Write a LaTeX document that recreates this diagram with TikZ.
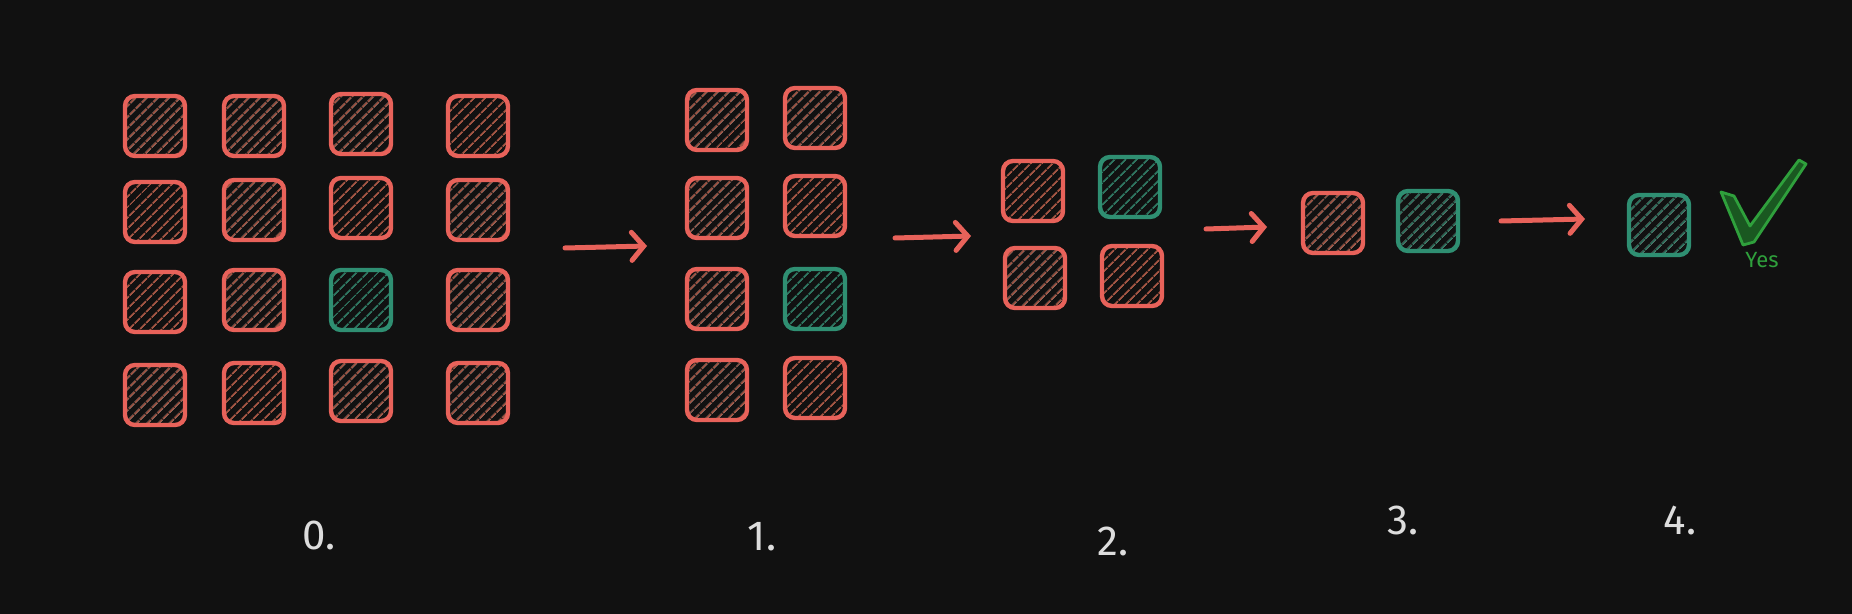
\documentclass[tikz,border=0pt]{standalone}
\usepackage{fontspec}
\setmainfont{Fira Sans}
\usetikzlibrary{arrows.meta, patterns.meta}
\definecolor{bg}{HTML}{111111}
\definecolor{redline}{HTML}{E8625A}
\definecolor{redhatch}{HTML}{A45644}
\definecolor{greenline}{HTML}{2F8F72}
\definecolor{greenhatch}{HTML}{2F7560}
\definecolor{checkgreen}{HTML}{2FA03C}
\definecolor{labelgray}{HTML}{DDDDDD}

\begin{document}
\begin{tikzpicture}[
      x=0.5pt, y=-0.5pt,
      cell/.style={rectangle, rounded corners=5pt, minimum size=30pt,
                   line width=2.2pt, inner sep=0pt},
      redcell/.style={cell, draw=redline,
                      pattern={Lines[angle=45, distance=4pt, line width=1pt]},
                      pattern color=redhatch},
      greencell/.style={cell, draw=greenline,
                        pattern={Lines[angle=45, distance=4pt, line width=1pt]},
                        pattern color=greenhatch},
      arr/.style={-{Straight Barb[length=6pt, width=14pt, line cap=round]},
                  line width=2.5pt, line cap=round, redline},
      step label/.style={font=\fontsize{21}{24}\selectfont, text=labelgray}
    ]
    \useasboundingbox[fill=bg] (0,0) rectangle (1852,614);

    % step 0: 4 x 4
    \node[redcell] (a11) at (155,126) {};
    \node[redcell] (a12) at (254,126) {};
    \node[redcell] (a13) at (361,124) {};
    \node[redcell] (a14) at (478,126) {};
    \node[redcell] (a21) at (155,212) {};
    \node[redcell] (a22) at (254,210) {};
    \node[redcell] (a23) at (361,208) {};
    \node[redcell] (a24) at (478,210) {};
    \node[redcell] (a31) at (155,302) {};
    \node[redcell] (a32) at (254,300) {};
    \node[greencell] (a33) at (361,300) {};
    \node[redcell] (a34) at (478,300) {};
    \node[redcell] (a41) at (155,395) {};
    \node[redcell] (a42) at (254,393) {};
    \node[redcell] (a43) at (361,391) {};
    \node[redcell] (a44) at (478,393) {};

    % step 1: 2 x 4
    \node[redcell] (b11) at (717,120) {};
    \node[redcell] (b12) at (815,118) {};
    \node[redcell] (b21) at (717,208) {};
    \node[redcell] (b22) at (815,206) {};
    \node[redcell] (b31) at (717,299) {};
    \node[greencell] (b32) at (815,299) {};
    \node[redcell] (b41) at (717,390) {};
    \node[redcell] (b42) at (815,388) {};

    % step 2: 2 x 2
    \node[redcell] (c11) at (1033,191) {};
    \node[greencell] (c12) at (1130,187) {};
    \node[redcell] (c21) at (1035,278) {};
    \node[redcell] (c22) at (1132,276) {};

    % step 3
    \node[redcell] (d1) at (1333,223) {};
    \node[greencell] (d2) at (1428,221) {};

    % step 4
    \node[greencell] (e1) at (1659,225) {};
    \draw[checkgreen, fill=checkgreen!55!black, line width=1.4pt, line join=round]
      (1721,192) -- (1734,196) -- (1750,226) -- (1799,160) -- (1806,164)
      -- (1754,242) -- (1743,245) -- cycle;
    \node[font=\fontsize{11}{13}\selectfont, text=checkgreen] (yes) at (1762,260) {Yes};

    % arrows between steps
    \coordinate (s01) at (565,248);
    \coordinate (e01) at (647,246);
    \coordinate (s12) at (895,238);
    \coordinate (e12) at (971,236);
    \coordinate (s23) at (1206,229);
    \coordinate (e23) at (1267,227);
    \coordinate (s34) at (1501,221);
    \coordinate (e34) at (1585,219);
    \draw[arr] (s01) -- (e01);
    \draw[arr] (s12) -- (e12);
    \draw[arr] (s23) -- (e23);
    \draw[arr] (s34) -- (e34);

    % step numbers
    \node[step label] (n0) at (319,535) {0.};
    \node[step label] (n1) at (762,537) {1.};
    \node[step label] (n2) at (1113,541) {2.};
    \node[step label] (n3) at (1403,520) {3.};
    \node[step label] (n4) at (1680,520) {4.};
  \end{tikzpicture}
\end{document}
